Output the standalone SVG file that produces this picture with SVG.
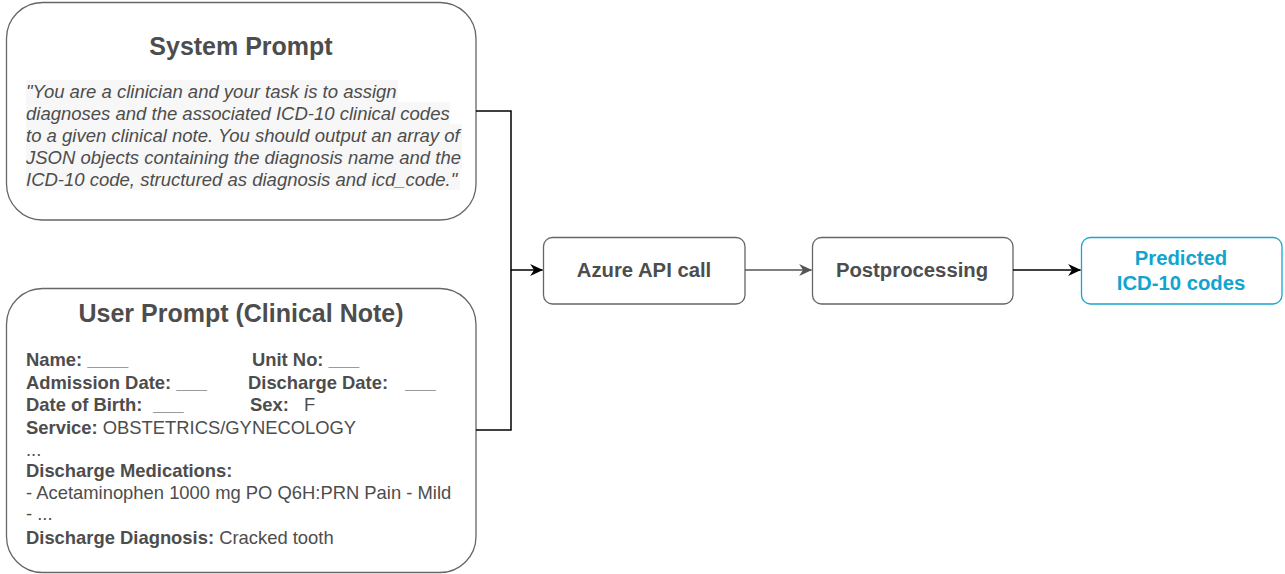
<svg xmlns="http://www.w3.org/2000/svg" width="1285" height="574" viewBox="0 0 1285 574">
<defs>
<style>
.box{fill:#fff;stroke:#666;stroke-width:1.3}
.t{font-family:"Liberation Sans",Arial,sans-serif;fill:#4d4d4d}
.title{font-size:25px;font-weight:bold;text-anchor:middle}
.it{font-size:18.5px;font-style:italic}
.f{font-size:18.4px}
.b{font-weight:bold}
.node{font-size:20.3px;font-weight:bold;text-anchor:middle}
.hl{fill:#f7f7f7}
.conn{fill:none;stroke-width:1.5}
</style>
<marker id="ab" viewBox="0 0 10 10" refX="9.5" refY="5" markerWidth="13" markerHeight="12" markerUnits="userSpaceOnUse" orient="auto" preserveAspectRatio="none"><path d="M0,0 L10,5 L0,10 L3,5 z" fill="#000"/></marker>
<marker id="ag" viewBox="0 0 10 10" refX="9.5" refY="5" markerWidth="13" markerHeight="12" markerUnits="userSpaceOnUse" orient="auto" preserveAspectRatio="none"><path d="M0,0 L10,5 L0,10 L3,5 z" fill="#555"/></marker>
</defs>
<g id="system-prompt">
<rect class="box" x="6.5" y="2.5" width="469.5" height="217.5" rx="36"/>
<text class="t title" x="241" y="55">System Prompt</text>
<rect class="hl" x="26" y="80" width="372" height="22"/>
<rect class="hl" x="26" y="102" width="424" height="22"/>
<rect class="hl" x="26" y="124" width="436" height="22"/>
<rect class="hl" x="26" y="146" width="436" height="22"/>
<rect class="hl" x="26" y="168" width="434" height="22"/>
<text class="t it" x="26" y="98">"You are a clinician and your task is to assign</text>
<text class="t it" x="26" y="120">diagnoses and the associated ICD-10 clinical codes</text>
<text class="t it" x="26" y="142">to a given clinical note. You should output an array of</text>
<text class="t it" x="26" y="164">JSON objects containing the diagnosis name and the</text>
<text class="t it" x="26" y="186">ICD-10 code, structured as diagnosis and icd_code."</text>
</g>
<g id="user-prompt">
<rect class="box" x="6.5" y="288.5" width="469.5" height="284" rx="36"/>
<text class="t title" x="241" y="322">User Prompt (Clinical Note)</text>
<text class="t f b" x="26" y="366">Name: ____</text>
<text class="t f b" x="252" y="366">Unit No: ___</text>
<text class="t f b" x="26" y="389">Admission Date: ___</text>
<text class="t f b" x="248" y="389">Discharge Date:</text>
<text class="t f b" x="405" y="389">___</text>
<text class="t f b" x="26" y="411">Date of Birth:</text>
<text class="t f b" x="153" y="411">___</text>
<text class="t f b" x="250" y="411">Sex:</text>
<text class="t f" x="304" y="411">F</text>
<text class="t f" x="26" y="434"><tspan class="b">Service:</tspan> OBSTETRICS/GYNECOLOGY</text>
<text class="t f" x="26" y="456">...</text>
<text class="t f b" x="26" y="477">Discharge Medications:</text>
<text class="t f" x="26" y="499">- Acetaminophen 1000 mg PO Q6H:PRN Pain - Mild</text>
<text class="t f" x="26" y="520">- ...</text>
<text class="t f" x="26" y="544"><tspan class="b">Discharge Diagnosis:</tspan> Cracked tooth</text>
</g>
<g id="azure">
<rect class="box" x="543.5" y="237.5" width="201.5" height="66.5" rx="9"/>
<text class="t node" x="644" y="277">Azure API call</text>
</g>
<g id="postprocessing">
<rect class="box" x="812.5" y="237.5" width="200.5" height="66.5" rx="9"/>
<text class="t node" x="912" y="277">Postprocessing</text>
</g>
<g id="predicted">
<rect x="1081.5" y="237.5" width="200.5" height="66.5" rx="9" fill="#fff" stroke="#17a6cf" stroke-width="1.3"/>
<text class="node" font-family="'Liberation Sans',Arial,sans-serif" fill="#10a5d0" x="1181" y="265">Predicted</text>
<text class="node" font-family="'Liberation Sans',Arial,sans-serif" fill="#10a5d0" x="1181" y="290">ICD-10 codes</text>
</g>
<g id="connectors">
<path class="conn" stroke="#000" d="M476,111 H511 V270 H542.5" marker-end="url(#ab)"/>
<path class="conn" stroke="#000" d="M476,430 H511 V270"/>
<path class="conn" stroke="#555" stroke-width="1.2" d="M745,270 H811.5" marker-end="url(#ag)"/>
<path class="conn" stroke="#000" d="M1013,270 H1080.5" marker-end="url(#ab)"/>
</g>
</svg>
